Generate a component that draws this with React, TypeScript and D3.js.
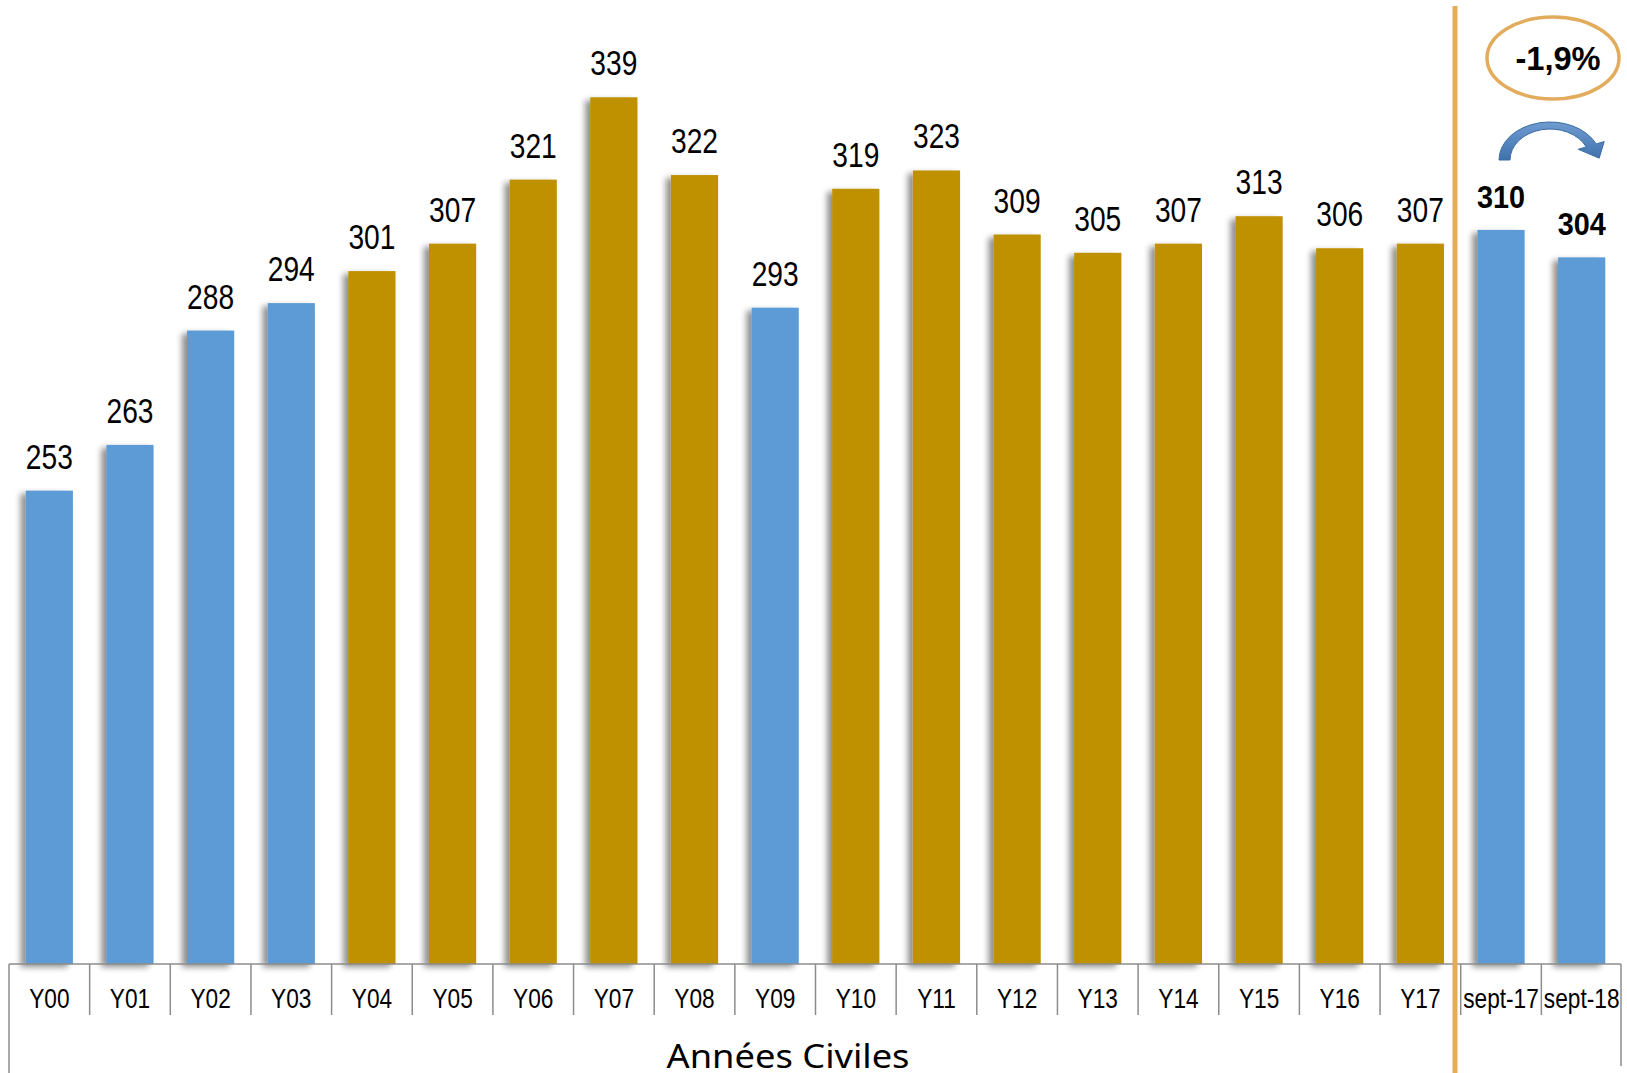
import React from "react";
import * as d3 from "d3";

const categories = ["Y00","Y01","Y02","Y03","Y04","Y05","Y06","Y07","Y08","Y09","Y10","Y11","Y12","Y13","Y14","Y15","Y16","Y17","sept-17","sept-18"];
const values = [253,263,288,294,301,307,321,339,322,293,319,323,309,305,307,313,306,307,310,304];
const blueCategories = ["Y00","Y01","Y02","Y03","Y09","sept-17","sept-18"];
const boldCategories = ["sept-17","sept-18"];
const changeLabel = "-1,9%";
const axisTitle = "Années Civiles";

const W = 1627, H = 1073;
const BLUE = "#5B9BD5", GOLD = "#BF9000", ORANGE = "#E2AC5C";

export default function App() {
  const x = d3.scaleBand<string>().domain(categories).range([9, 1622]).padding(0);
  const y = d3.scaleLinear().domain([149.5, 339]).range([964, 97.3]);
  const bw = x.bandwidth() * 0.585;
  const axisY = y(149.5);

  // curved arrow geometry
  const cx = 1550, cy = 160;
  const ro = { rx: 51, ry: 38 }, ri = { rx: 40, ry: 31 };
  const t = (25 * Math.PI) / 180;
  const oEnd = [cx + ro.rx * Math.cos(t), cy - ro.ry * Math.sin(t)];
  const iEnd = [cx + ri.rx * Math.cos(t), cy - ri.ry * Math.sin(t)];
  const dir = [oEnd[0] - iEnd[0], oEnd[1] - iEnd[1]];
  const mid = [(oEnd[0] + iEnd[0]) / 2, (oEnd[1] + iEnd[1]) / 2];
  const tan = [ro.rx * Math.sin(t), ro.ry * Math.cos(t)];
  const tl = Math.hypot(tan[0], tan[1]);
  const tip = [mid[0] + (15 * tan[0]) / tl, mid[1] + (15 * tan[1]) / tl];
  const baseO = [oEnd[0] + dir[0] * 0.8, oEnd[1] + dir[1] * 0.8];
  const baseI = [iEnd[0] - dir[0] * 0.8, iEnd[1] - dir[1] * 0.8];
  const arrowPath = [
    `M${cx - ro.rx},${cy}`,
    `A${ro.rx},${ro.ry} 0 0 1 ${oEnd[0]},${oEnd[1]}`,
    `L${baseO[0]},${baseO[1]}`,
    `L${tip[0]},${tip[1]}`,
    `L${baseI[0]},${baseI[1]}`,
    `L${iEnd[0]},${iEnd[1]}`,
    `A${ri.rx},${ri.ry} 0 0 0 ${cx - ri.rx},${cy}`,
    "Z",
  ].join(" ");

  return (
    <svg width={W} height={H} style={{ position: "absolute", left: 0, top: 0, background: "#fff" }}>
      <defs>
        <filter id="shadow" x="-30%" y="-10%" width="160%" height="120%">
          <feGaussianBlur in="SourceAlpha" stdDeviation="3" />
          <feOffset dx="-5" dy="3" result="ob" />
          <feComponentTransfer>
            <feFuncA type="linear" slope="0.45" />
          </feComponentTransfer>
          <feMerge>
            <feMergeNode />
            <feMergeNode in="SourceGraphic" />
          </feMerge>
        </filter>
        <linearGradient id="arrowGrad" x1="0" y1="0" x2="0" y2="1">
          <stop offset="0" stopColor="#6F9BD0" />
          <stop offset="1" stopColor="#3F72AE" />
        </linearGradient>
      </defs>

      {categories.map((c, i) => {
        const bx = (x(c) as number) + (x.bandwidth() - bw) / 2;
        const by = y(values[i]);
        return (
          <rect key={c} x={bx} y={by} width={bw} height={axisY - by}
            fill={blueCategories.includes(c) ? BLUE : GOLD} filter="url(#shadow)" />
        );
      })}

      {categories.map((c, i) => {
        const cxl = (x(c) as number) + x.bandwidth() / 2;
        const by = y(values[i]);
        const bold = boldCategories.includes(c);
        return (
          <text key={c} transform={`translate(${cxl},${by - 22}) scale(${bold ? 0.93 : 0.805},1)`}
            textAnchor="middle" fontFamily="'Liberation Sans', Arial, sans-serif"
            fontSize={bold ? 31 : 35} fontWeight={bold ? "bold" : "normal"} fill="#000">
            {values[i]}
          </text>
        );
      })}

      {/* axis */}
      <line x1={9} x2={1621} y1={axisY} y2={axisY} stroke="#8c8c8c" strokeWidth={1.5} />
      {categories.map((c, i) => (
        <line key={c} x1={x(c) as number} x2={x(c) as number} y1={axisY} y2={i === 0 ? H : 1015}
          stroke="#8c8c8c" strokeWidth={1.5} />
      ))}
      <line x1={1621} x2={1621} y1={axisY} y2={1066} stroke="#8c8c8c" strokeWidth={1.5} />
      {categories.map((c) => (
        <text key={c} transform={`translate(${(x(c) as number) + x.bandwidth() / 2},1008) scale(0.81,1)`}
          textAnchor="middle" fontFamily="'Liberation Sans', Arial, sans-serif" fontSize={28} fill="#000">
          {c}
        </text>
      ))}
      <text x={788} y={1068} textAnchor="middle" fontFamily="'Noto Sans', 'Open Sans', sans-serif"
        fontSize={32} textLength={243} lengthAdjust="spacingAndGlyphs" fill="#000">
        {axisTitle}
      </text>

      {/* separator */}
      <line x1={1455} x2={1455} y1={6} y2={H} stroke={ORANGE} strokeWidth={5} />

      {/* change bubble */}
      <ellipse cx={1553} cy={58} rx={66} ry={41} fill="none" stroke={ORANGE} strokeWidth={3.5} />
      <text transform={`translate(1558,70) scale(0.96,1)`} textAnchor="middle"
        fontFamily="'Liberation Sans', Arial, sans-serif" fontSize={34} fontWeight="bold" fill="#000">
        {changeLabel}
      </text>
      <path d={arrowPath} fill="url(#arrowGrad)" stroke="#3A6AA3" strokeWidth={1} />
    </svg>
  );
}
